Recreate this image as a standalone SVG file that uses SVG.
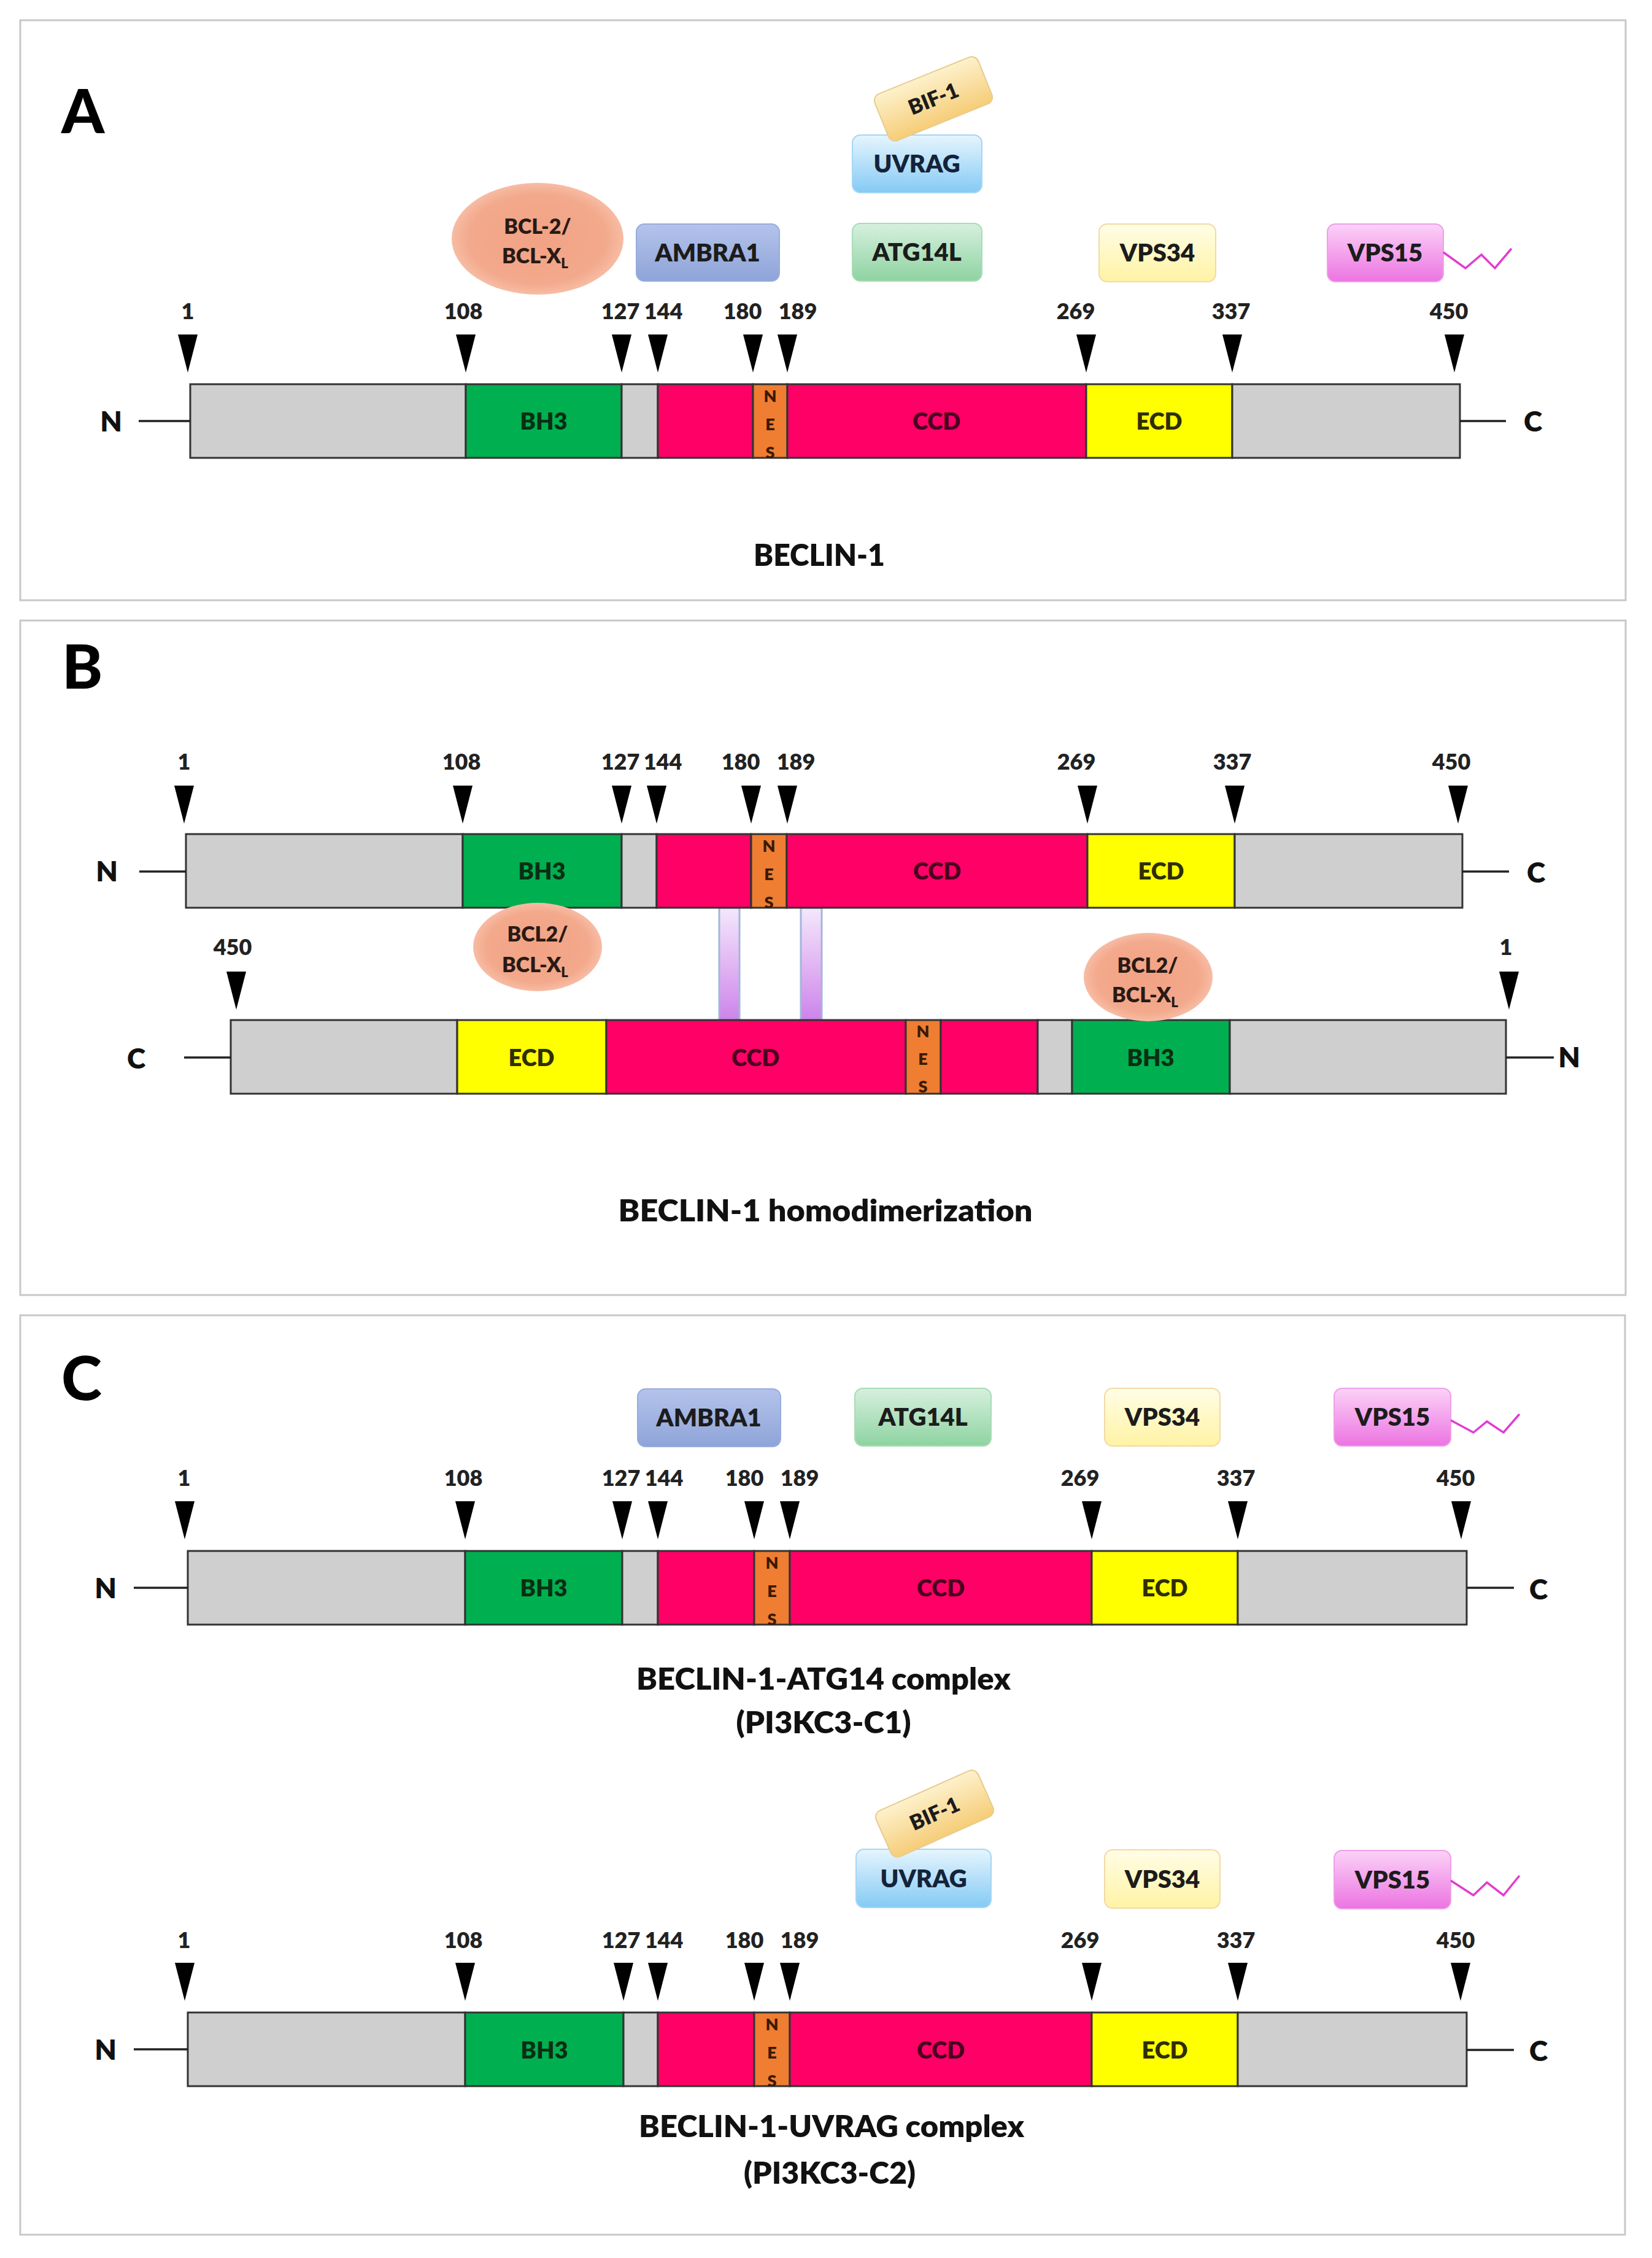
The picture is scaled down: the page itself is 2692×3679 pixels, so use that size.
<svg xmlns="http://www.w3.org/2000/svg" xmlns:xlink="http://www.w3.org/1999/xlink" width="2692" height="3679" viewBox="0 0 2692 3679">
<style>
text{font-family:Lato,"Liberation Sans",sans-serif;font-weight:800;fill:#1c1c1c}
.frame{fill:#fff;stroke:#c8c8c8;stroke-width:3}
.big{font-size:100px;font-weight:900;fill:#000}
.cap{font-size:49px;text-anchor:middle;fill:#111}
.tick{font-size:36px;text-anchor:middle;fill:#222}
.end{font-size:46px;text-anchor:middle;fill:#111}
.seg{stroke:#333;stroke-width:3}
.gr{fill:#d0cfd0}
.bh3{fill:#00b050}
.ccd{fill:#ff0066}
.nes{fill:#ef7d32}
.ecd{fill:#ffff00}
.sl{font-size:38px;text-anchor:middle}
.nl{font-size:27px;text-anchor:middle;fill:#3a1a00}
.line{stroke:#222;stroke-width:3.5;fill:none}
.box{font-size:40px;text-anchor:middle}
.zig{stroke:#e23ccf;stroke-width:3.5;fill:none}
.ell{fill:url(#gEll)}
.et{font-size:34px;text-anchor:middle;fill:#2a1a14}
.pur{fill:url(#gPur);stroke:#a3b6dc;stroke-width:3}
</style>
<defs>
<path id="tri" d="M-16,0 H16 L0,62 Z" fill="#000"/>
<linearGradient id="gAmb" x1="0" y1="0" x2="0" y2="1"><stop offset="0" stop-color="#b4c3eb"/><stop offset="1" stop-color="#8ea4d8"/></linearGradient>
<linearGradient id="gUvr" x1="0" y1="0" x2="0" y2="1"><stop offset="0" stop-color="#e6f5fe"/><stop offset="1" stop-color="#84caf4"/></linearGradient>
<linearGradient id="gAtg" x1="0" y1="0" x2="0" y2="1"><stop offset="0" stop-color="#d6f0de"/><stop offset="1" stop-color="#8ed3a1"/></linearGradient>
<linearGradient id="gV34" x1="0" y1="0" x2="0" y2="1"><stop offset="0" stop-color="#fffde6"/><stop offset="1" stop-color="#fff3a4"/></linearGradient>
<linearGradient id="gV15" x1="0" y1="0" x2="0" y2="1"><stop offset="0" stop-color="#fbd2f7"/><stop offset="1" stop-color="#ec74e2"/></linearGradient>
<linearGradient id="gBif" x1="0" y1="0" x2="0" y2="1"><stop offset="0" stop-color="#fdf1cc"/><stop offset="1" stop-color="#f6cd78"/></linearGradient>
<linearGradient id="gPur" x1="0" y1="0" x2="0" y2="1"><stop offset="0" stop-color="#f3e8fc"/><stop offset="0.5" stop-color="#e2b6f3"/><stop offset="1" stop-color="#cc84ea"/></linearGradient>
<radialGradient id="gEll" cx="0.5" cy="0.5" r="0.5"><stop offset="0" stop-color="#f2a284"/><stop offset="0.8" stop-color="#f3a98c"/><stop offset="1" stop-color="#f7bca4"/></radialGradient>
<clipPath id="barClip"><rect x="0" y="0" width="2692" height="120"/></clipPath>
</defs>

<!-- Panel frames -->
<g id="frames">
<rect class="frame" x="33" y="33" width="2616" height="945"/>
<rect class="frame" x="33" y="1011" width="2616" height="1099"/>
<rect class="frame" x="33" y="2143" width="2615" height="1498"/>
</g>

<!-- ================= PANEL A ================= -->
<g id="panelA">
<text class="big" x="100" y="217">A</text>

<g id="A-bar" transform="translate(0,626)">
<rect class="seg gr" x="310" y="0" width="449" height="120"/>
<rect class="seg bh3" x="759" y="0" width="254" height="120"/>
<rect class="seg gr" x="1013" y="0" width="59" height="120"/>
<rect class="seg ccd" x="1072" y="0" width="155" height="120"/>
<rect class="seg nes" x="1227" y="0" width="56" height="120"/>
<rect class="seg ccd" x="1283" y="0" width="487" height="120"/>
<rect class="seg ecd" x="1770" y="0" width="238" height="120"/>
<rect class="seg gr" x="2008" y="0" width="371" height="120"/>
<text class="sl" x="886" y="74" style="fill:#0a2e14">BH3</text>
<g clip-path="url(#barClip)"><text class="nl" x="1255" y="29">N</text><text class="nl" x="1255" y="75">E</text><text class="nl" x="1255" y="121">S</text></g>
<text class="sl" x="1526" y="74" style="fill:#4a0020">CCD</text>
<text class="sl" x="1889" y="74" style="fill:#2e2e00">ECD</text>
</g>
<line class="line" x1="226" y1="686" x2="310" y2="686"/>
<line class="line" x1="2379" y1="686" x2="2454" y2="686"/>
<text class="end" x="181" y="703">N</text>
<text class="end" x="2498" y="703">C</text>

<g id="A-ticks">
<use href="#tri" x="306" y="545"/><use href="#tri" x="759" y="545"/><use href="#tri" x="1013" y="545"/><use href="#tri" x="1072" y="545"/><use href="#tri" x="1227" y="545"/><use href="#tri" x="1283" y="545"/><use href="#tri" x="1770" y="545"/><use href="#tri" x="2008" y="545"/><use href="#tri" x="2370" y="545"/>
<text class="tick" x="306" y="520">1</text><text class="tick" x="755" y="520">108</text><text class="tick" x="1011" y="520">127</text><text class="tick" x="1081" y="520">144</text><text class="tick" x="1210" y="520">180</text><text class="tick" x="1300" y="520">189</text><text class="tick" x="1753" y="520">269</text><text class="tick" x="2006" y="520">337</text><text class="tick" x="2361" y="520">450</text>
</g>

<g id="A-bcl">
<ellipse class="ell" cx="876" cy="389" rx="140" ry="91"/>
<text class="et" x="876" y="381">BCL-2/</text>
<text class="et" x="872" y="429">BCL-X<tspan font-size="22" dy="8">L</tspan></text>
</g>
<g id="A-ambra1">
<rect x="1037" y="365" width="233" height="93" rx="13" fill="url(#gAmb)" stroke="#98acdc" stroke-width="2"/>
<text class="box" x="1153" y="426">AMBRA1</text>
</g>
<g id="A-uvrag">
<rect x="1389" y="220" width="211" height="94" rx="13" fill="url(#gUvr)" stroke="#a6d6f4" stroke-width="2"/>
<text class="box" x="1494" y="281" style="fill:#14233a">UVRAG</text>
</g>
<g id="A-bif1" transform="translate(1521,161) rotate(-22)">
<rect x="-91" y="-41" width="182" height="82" rx="12" fill="url(#gBif)" stroke="#e8cb8e" stroke-width="2"/>
<text x="0" y="12" font-size="34" text-anchor="middle">BIF-1</text>
</g>
<g id="A-atg14l">
<rect x="1389" y="364" width="211" height="94" rx="13" fill="url(#gAtg)" stroke="#a9dcb6" stroke-width="2"/>
<text class="box" x="1494" y="425">ATG14L</text>
</g>
<g id="A-vps34">
<rect x="1791" y="365" width="190" height="94" rx="13" fill="url(#gV34)" stroke="#f3d9a4" stroke-width="2"/>
<text class="box" x="1886" y="426">VPS34</text>
</g>
<g id="A-vps15">
<rect x="2163" y="365" width="189" height="94" rx="13" fill="url(#gV15)" stroke="#eea0e8" stroke-width="2"/>
<text class="box" x="2257" y="426">VPS15</text>
<polyline class="zig" points="2352,411 2388,437 2414,415 2436,437 2463,405"/>
</g>
<text class="cap" x="1335" y="922" textLength="214" lengthAdjust="spacingAndGlyphs">BECLIN-1</text>
</g>

<!-- ================= PANEL B ================= -->
<g id="panelB">
<text class="big" x="101" y="1122">B</text>

<g id="B-links">
<rect class="pur" x="1172" y="1479" width="33" height="183"/>
<rect class="pur" x="1305" y="1479" width="34" height="183"/>
</g>

<g id="B-bar1" transform="translate(0,1359)">
<rect class="seg gr" x="303" y="0" width="451" height="120"/>
<rect class="seg bh3" x="754" y="0" width="259" height="120"/>
<rect class="seg gr" x="1013" y="0" width="57" height="120"/>
<rect class="seg ccd" x="1070" y="0" width="154" height="120"/>
<rect class="seg nes" x="1224" y="0" width="58" height="120"/>
<rect class="seg ccd" x="1282" y="0" width="490" height="120"/>
<rect class="seg ecd" x="1772" y="0" width="240" height="120"/>
<rect class="seg gr" x="2012" y="0" width="371" height="120"/>
<text class="sl" x="883" y="74" style="fill:#0a2e14">BH3</text>
<g clip-path="url(#barClip)"><text class="nl" x="1253" y="29">N</text><text class="nl" x="1253" y="75">E</text><text class="nl" x="1253" y="121">S</text></g>
<text class="sl" x="1527" y="74" style="fill:#4a0020">CCD</text>
<text class="sl" x="1892" y="74" style="fill:#2e2e00">ECD</text>
</g>
<line class="line" x1="227" y1="1420" x2="303" y2="1420"/>
<line class="line" x1="2383" y1="1420" x2="2459" y2="1420"/>
<text class="end" x="174" y="1436">N</text>
<text class="end" x="2503" y="1438">C</text>

<g id="B-ticks1">
<use href="#tri" x="300" y="1280"/><use href="#tri" x="754" y="1280"/><use href="#tri" x="1013" y="1280"/><use href="#tri" x="1070" y="1280"/><use href="#tri" x="1224" y="1280"/><use href="#tri" x="1283" y="1280"/><use href="#tri" x="1772" y="1280"/><use href="#tri" x="2012" y="1280"/><use href="#tri" x="2376" y="1280"/>
<text class="tick" x="300" y="1254">1</text><text class="tick" x="752" y="1254">108</text><text class="tick" x="1011" y="1254">127</text><text class="tick" x="1080" y="1254">144</text><text class="tick" x="1207" y="1254">180</text><text class="tick" x="1297" y="1254">189</text><text class="tick" x="1754" y="1254">269</text><text class="tick" x="2008" y="1254">337</text><text class="tick" x="2365" y="1254">450</text>
</g>

<g id="B-bar2" transform="translate(0,1662)">
<rect class="seg gr" x="376" y="0" width="369" height="120"/>
<rect class="seg ecd" x="745" y="0" width="243" height="120"/>
<rect class="seg ccd" x="988" y="0" width="488" height="120"/>
<rect class="seg nes" x="1476" y="0" width="57" height="120"/>
<rect class="seg ccd" x="1533" y="0" width="158" height="120"/>
<rect class="seg gr" x="1691" y="0" width="56" height="120"/>
<rect class="seg bh3" x="1747" y="0" width="257" height="120"/>
<rect class="seg gr" x="2004" y="0" width="450" height="120"/>
<text class="sl" x="866" y="75" style="fill:#2e2e00">ECD</text>
<text class="sl" x="1231" y="75" style="fill:#4a0020">CCD</text>
<g clip-path="url(#barClip)"><text class="nl" x="1504" y="28">N</text><text class="nl" x="1504" y="73">E</text><text class="nl" x="1504" y="118">S</text></g>
<text class="sl" x="1875" y="75" style="fill:#0a2e14">BH3</text>
</g>
<line class="line" x1="300" y1="1723" x2="376" y2="1723"/>
<line class="line" x1="2454" y1="1723" x2="2532" y2="1723"/>
<text class="end" x="222" y="1741">C</text>
<text class="end" x="2557" y="1739">N</text>

<g id="B-ticks2">
<use href="#tri" x="385" y="1583"/><use href="#tri" x="2459" y="1583"/>
<text class="tick" x="379" y="1556">450</text><text class="tick" x="2454" y="1556">1</text>
</g>

<g id="B-bcl1">
<ellipse class="ell" cx="876" cy="1543" rx="105" ry="72"/>
<text class="et" x="876" y="1534">BCL2/</text>
<text class="et" x="872" y="1584">BCL-X<tspan font-size="22" dy="8">L</tspan></text>
</g>
<g id="B-bcl2">
<ellipse class="ell" cx="1871" cy="1592" rx="105" ry="72"/>
<text class="et" x="1870" y="1585">BCL2/</text>
<text class="et" x="1866" y="1633">BCL-X<tspan font-size="22" dy="8">L</tspan></text>
</g>
<text class="cap" x="1345" y="1990" textLength="675" lengthAdjust="spacingAndGlyphs">BECLIN-1 homodimerization</text>
</g>

<!-- ================= PANEL C ================= -->
<g id="panelC">
<text class="big" x="100" y="2281">C</text>

<!-- C1 -->
<g id="C1-bar" transform="translate(0,2527)">
<rect class="seg gr" x="306" y="0" width="452" height="120"/>
<rect class="seg bh3" x="758" y="0" width="256" height="120"/>
<rect class="seg gr" x="1014" y="0" width="58" height="120"/>
<rect class="seg ccd" x="1072" y="0" width="157" height="120"/>
<rect class="seg nes" x="1229" y="0" width="58" height="120"/>
<rect class="seg ccd" x="1287" y="0" width="492" height="120"/>
<rect class="seg ecd" x="1779" y="0" width="238" height="120"/>
<rect class="seg gr" x="2017" y="0" width="373" height="120"/>
<text class="sl" x="886" y="74" style="fill:#0a2e14">BH3</text>
<g clip-path="url(#barClip)"><text class="nl" x="1258" y="29">N</text><text class="nl" x="1258" y="75">E</text><text class="nl" x="1258" y="121">S</text></g>
<text class="sl" x="1533" y="74" style="fill:#4a0020">CCD</text>
<text class="sl" x="1898" y="74" style="fill:#2e2e00">ECD</text>
</g>
<line class="line" x1="218" y1="2587" x2="306" y2="2587"/>
<line class="line" x1="2390" y1="2587" x2="2467" y2="2587"/>
<text class="end" x="172" y="2604">N</text>
<text class="end" x="2507" y="2606">C</text>

<g id="C1-ticks">
<use href="#tri" x="301" y="2446"/><use href="#tri" x="758" y="2446"/><use href="#tri" x="1014" y="2446"/><use href="#tri" x="1072" y="2446"/><use href="#tri" x="1229" y="2446"/><use href="#tri" x="1287" y="2446"/><use href="#tri" x="1779" y="2446"/><use href="#tri" x="2017" y="2446"/><use href="#tri" x="2381" y="2446"/>
<text class="tick" x="300" y="2421">1</text><text class="tick" x="755" y="2421">108</text><text class="tick" x="1012" y="2421">127</text><text class="tick" x="1082" y="2421">144</text><text class="tick" x="1213" y="2421">180</text><text class="tick" x="1303" y="2421">189</text><text class="tick" x="1760" y="2421">269</text><text class="tick" x="2014" y="2421">337</text><text class="tick" x="2372" y="2421">450</text>
</g>

<g id="C1-ambra1">
<rect x="1039" y="2263" width="233" height="94" rx="13" fill="url(#gAmb)" stroke="#98acdc" stroke-width="2"/>
<text class="box" x="1155" y="2324">AMBRA1</text>
</g>
<g id="C1-atg14l">
<rect x="1393" y="2262" width="222" height="94" rx="13" fill="url(#gAtg)" stroke="#a9dcb6" stroke-width="2"/>
<text class="box" x="1504" y="2323">ATG14L</text>
</g>
<g id="C1-vps34">
<rect x="1800" y="2262" width="188" height="94" rx="13" fill="url(#gV34)" stroke="#f3d9a4" stroke-width="2"/>
<text class="box" x="1894" y="2323">VPS34</text>
</g>
<g id="C1-vps15">
<rect x="2174" y="2262" width="190" height="94" rx="13" fill="url(#gV15)" stroke="#eea0e8" stroke-width="2"/>
<text class="box" x="2269" y="2323">VPS15</text>
<polyline class="zig" points="2364,2314 2401,2334 2423,2316 2450,2334 2476,2304"/>
</g>
<text class="cap" x="1342" y="2753" textLength="610" lengthAdjust="spacingAndGlyphs">BECLIN-1-ATG14 complex</text>
<text class="cap" x="1342" y="2824" textLength="285" lengthAdjust="spacingAndGlyphs">(PI3KC3-C1)</text>

<!-- C2 -->
<g id="C2-bar" transform="translate(0,3279)">
<rect class="seg gr" x="306" y="0" width="452" height="120"/>
<rect class="seg bh3" x="758" y="0" width="258" height="120"/>
<rect class="seg gr" x="1016" y="0" width="56" height="120"/>
<rect class="seg ccd" x="1072" y="0" width="157" height="120"/>
<rect class="seg nes" x="1229" y="0" width="58" height="120"/>
<rect class="seg ccd" x="1287" y="0" width="492" height="120"/>
<rect class="seg ecd" x="1779" y="0" width="238" height="120"/>
<rect class="seg gr" x="2017" y="0" width="373" height="120"/>
<text class="sl" x="887" y="75" style="fill:#0a2e14">BH3</text>
<g clip-path="url(#barClip)"><text class="nl" x="1258" y="29">N</text><text class="nl" x="1258" y="75">E</text><text class="nl" x="1258" y="121">S</text></g>
<text class="sl" x="1533" y="75" style="fill:#4a0020">CCD</text>
<text class="sl" x="1898" y="75" style="fill:#2e2e00">ECD</text>
</g>
<line class="line" x1="218" y1="3339" x2="306" y2="3339"/>
<line class="line" x1="2390" y1="3340" x2="2467" y2="3340"/>
<text class="end" x="172" y="3356">N</text>
<text class="end" x="2507" y="3358">C</text>

<g id="C2-ticks">
<use href="#tri" x="301" y="3198"/><use href="#tri" x="758" y="3198"/><use href="#tri" x="1016" y="3198"/><use href="#tri" x="1072" y="3198"/><use href="#tri" x="1229" y="3198"/><use href="#tri" x="1287" y="3198"/><use href="#tri" x="1779" y="3198"/><use href="#tri" x="2017" y="3198"/><use href="#tri" x="2380" y="3198"/>
<text class="tick" x="300" y="3174">1</text><text class="tick" x="755" y="3174">108</text><text class="tick" x="1012" y="3174">127</text><text class="tick" x="1082" y="3174">144</text><text class="tick" x="1213" y="3174">180</text><text class="tick" x="1303" y="3174">189</text><text class="tick" x="1760" y="3174">269</text><text class="tick" x="2014" y="3174">337</text><text class="tick" x="2372" y="3174">450</text>
</g>

<g id="C2-uvrag">
<rect x="1395" y="3013" width="220" height="95" rx="13" fill="url(#gUvr)" stroke="#a6d6f4" stroke-width="2"/>
<text class="box" x="1505" y="3075" style="fill:#14233a">UVRAG</text>
</g>
<g id="C2-bif1" transform="translate(1523,2955) rotate(-24)">
<rect x="-91" y="-41" width="182" height="82" rx="12" fill="url(#gBif)" stroke="#e8cb8e" stroke-width="2"/>
<text x="0" y="12" font-size="34" text-anchor="middle">BIF-1</text>
</g>
<g id="C2-vps34">
<rect x="1800" y="3014" width="188" height="95" rx="13" fill="url(#gV34)" stroke="#f3d9a4" stroke-width="2"/>
<text class="box" x="1894" y="3076">VPS34</text>
</g>
<g id="C2-vps15">
<rect x="2174" y="3015" width="190" height="95" rx="13" fill="url(#gV15)" stroke="#eea0e8" stroke-width="2"/>
<text class="box" x="2269" y="3077">VPS15</text>
<polyline class="zig" points="2364,3064 2401,3088 2423,3067 2450,3088 2476,3056"/>
</g>
<text class="cap" x="1355" y="3482" textLength="628" lengthAdjust="spacingAndGlyphs">BECLIN-1-UVRAG complex</text>
<text class="cap" x="1352" y="3558" textLength="280" lengthAdjust="spacingAndGlyphs">(PI3KC3-C2)</text>
</g>
</svg>
